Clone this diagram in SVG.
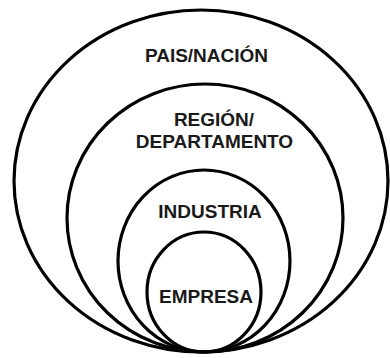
<svg xmlns="http://www.w3.org/2000/svg" width="390" height="358" viewBox="0 0 390 358">
<style>
.ring{fill:none;stroke:#000;stroke-width:3.2}
.lbl{font-family:"Liberation Sans",Arial,sans-serif;font-weight:bold;font-size:19px;fill:#1a1a1a;text-anchor:middle}
</style>
<rect width="390" height="358" fill="#fff"/>
<g id="pais">
<ellipse class="ring" cx="201" cy="181" rx="187" ry="171"/>
<text class="lbl" x="206.5" y="62">PAIS/NACIÓN</text>
</g>
<g id="region">
<ellipse class="ring" cx="205" cy="218" rx="138" ry="134"/>
<text class="lbl" x="214" y="126">REGIÓN/</text>
<text class="lbl" x="214.5" y="148">DEPARTAMENTO</text>
</g>
<g id="industria">
<ellipse class="ring" cx="204" cy="261" rx="86" ry="91"/>
<text class="lbl" x="210" y="218">INDUSTRIA</text>
</g>
<g id="empresa">
<ellipse class="ring" cx="204" cy="292" rx="57" ry="60"/>
<text class="lbl" x="206" y="303">EMPRESA</text>
</g>
<g id="connectors"></g>
</svg>
